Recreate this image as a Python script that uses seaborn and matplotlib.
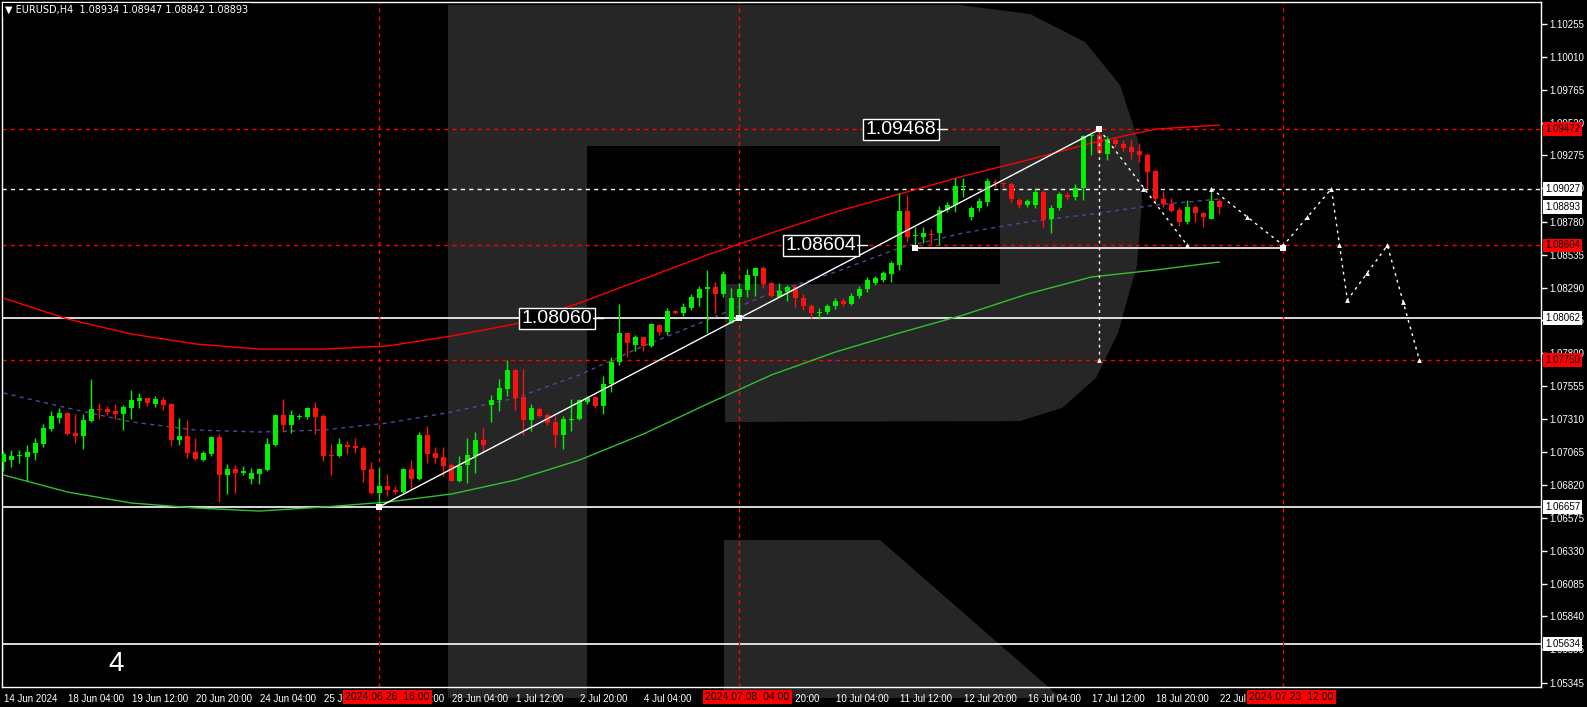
import numpy as np
import pandas as pd
import seaborn as sns
import matplotlib.pyplot as plt
from matplotlib.patches import Polygon
from matplotlib import transforms

W, H = 1587, 707

# H4 candles, 14 Jun 2024 20:00 .. 22 Jul 2024 04:00
opens = [1.06993, 1.07005, 1.07033, 1.07028, 1.07060, 1.07127, 1.07234, 1.07318, 1.07356, 1.07207,
         1.07184, 1.07296, 1.07388, 1.07385, 1.07370, 1.07348, 1.07393, 1.07445, 1.07467, 1.07423,
         1.07452, 1.07425, 1.07154, 1.07184, 1.07065, 1.07005, 1.07050, 1.07177, 1.06894, 1.06938,
         1.06909, 1.06864, 1.06901, 1.06931, 1.07117, 1.07341, 1.07266, 1.07326, 1.07326, 1.07393,
         1.07333, 1.07043, 1.07035, 1.07117, 1.07110, 1.07095, 1.06938, 1.06760, 1.06812, 1.06782,
         1.06769, 1.06938, 1.06862, 1.07194, 1.07060, 1.07030, 1.06970, 1.06851, 1.06970, 1.07037,
         1.07157, 1.07417, 1.07455, 1.07537, 1.07678, 1.07477, 1.07306, 1.07388, 1.07343, 1.07291,
         1.07194, 1.07306, 1.07313, 1.07440, 1.07477, 1.07410, 1.07574, 1.07738, 1.07954, 1.07864,
         1.07924, 1.07857, 1.08013, 1.07961, 1.08118, 1.08103, 1.08140, 1.08215, 1.08282, 1.08297,
         1.08244, 1.08028, 1.08222, 1.08274, 1.08378, 1.08438, 1.08326, 1.08222, 1.08259, 1.08297,
         1.08215, 1.08150, 1.08100, 1.08110, 1.08150, 1.08190, 1.08170, 1.08230, 1.08277, 1.08326,
         1.08346, 1.08390, 1.08458, 1.08861, 1.08672, 1.08665, 1.08690, 1.08694, 1.08868, 1.08905,
         1.09040, 1.08814, 1.08880, 1.08930, 1.09079, 1.09067, 1.09062, 1.08942, 1.08905, 1.08905,
         1.09004, 1.08801, 1.08885, 1.08980, 1.08967, 1.09030, 1.09419, 1.09427, 1.09282, 1.09389,
         1.09362, 1.09337, 1.09307, 1.09280, 1.09160, 1.08950, 1.08915, 1.08868, 1.08781, 1.08888,
         1.08843, 1.08799, 1.08934]
highs = [1.07075, 1.07080, 1.07080, 1.07117, 1.07169, 1.07274, 1.07370, 1.07395, 1.07365, 1.07348,
         1.07348, 1.07609, 1.07430, 1.07408, 1.07423, 1.07415, 1.07527, 1.07505, 1.07467, 1.07482,
         1.07475, 1.07432, 1.07318, 1.07303, 1.07169, 1.07072, 1.07185, 1.07199, 1.06976, 1.06968,
         1.06961, 1.06946, 1.06945, 1.07169, 1.07348, 1.07460, 1.07378, 1.07348, 1.07400, 1.07438,
         1.07348, 1.07125, 1.07169, 1.07147, 1.07169, 1.07110, 1.06990, 1.06946, 1.06901, 1.06812,
         1.06945, 1.07008, 1.07216, 1.07261, 1.07104, 1.07104, 1.06985, 1.07037, 1.07172, 1.07216,
         1.07246, 1.07492, 1.07611, 1.07753, 1.07686, 1.07686, 1.07425, 1.07403, 1.07358, 1.07335,
         1.07335, 1.07462, 1.07462, 1.07484, 1.07484, 1.07633, 1.07775, 1.08170, 1.07954, 1.07939,
         1.07924, 1.08028, 1.08021, 1.08140, 1.08125, 1.08177, 1.08244, 1.08304, 1.08423, 1.08334,
         1.08416, 1.08289, 1.08326, 1.08431, 1.08445, 1.08453, 1.08334, 1.08326, 1.08311, 1.08311,
         1.08240, 1.08170, 1.08140, 1.08170, 1.08210, 1.08215, 1.08250, 1.08300, 1.08370, 1.08380,
         1.08410, 1.08490, 1.08992, 1.08980, 1.08744, 1.08744, 1.08725, 1.08900, 1.08930, 1.09104,
         1.09104, 1.08900, 1.08960, 1.09104, 1.09100, 1.09080, 1.09080, 1.08955, 1.08950, 1.09030,
         1.09016, 1.08905, 1.09000, 1.09000, 1.09060, 1.09427, 1.09439, 1.09468, 1.09420, 1.09410,
         1.09390, 1.09389, 1.09369, 1.09295, 1.09165, 1.09010, 1.08955, 1.08890, 1.08942, 1.08905,
         1.08850, 1.09030, 1.08947]
lows = [1.06926, 1.06955, 1.06983, 1.06851, 1.07005, 1.07104, 1.07221, 1.07283, 1.07192, 1.07134,
        1.07090, 1.07289, 1.07313, 1.07341, 1.07313, 1.07229, 1.07311, 1.07395, 1.07410, 1.07402,
        1.07378, 1.07110, 1.07117, 1.07020, 1.07005, 1.06998, 1.07035, 1.06692, 1.06752, 1.06760,
        1.06894, 1.06827, 1.06827, 1.06925, 1.07110, 1.07214, 1.07207, 1.07311, 1.07311, 1.07199,
        1.06998, 1.06894, 1.07028, 1.07050, 1.07058, 1.06842, 1.06755, 1.06657, 1.06737, 1.06752,
        1.06760, 1.06784, 1.06855, 1.06985, 1.06985, 1.06888, 1.06851, 1.06845, 1.06836, 1.06910,
        1.07060, 1.07291, 1.07373, 1.07484, 1.07380, 1.07194, 1.07224, 1.07328, 1.07268, 1.07105,
        1.07090, 1.07224, 1.07306, 1.07425, 1.07395, 1.07350, 1.07514, 1.07715, 1.07775, 1.07820,
        1.07820, 1.07850, 1.07939, 1.07939, 1.08095, 1.08080, 1.08125, 1.08155, 1.07954, 1.08103,
        1.08222, 1.08028, 1.08060, 1.08222, 1.08229, 1.08289, 1.08222, 1.08222, 1.08192, 1.08148,
        1.08120, 1.08065, 1.08055, 1.08090, 1.08130, 1.08150, 1.08160, 1.08210, 1.08260, 1.08310,
        1.08330, 1.08330, 1.08421, 1.08632, 1.08604, 1.08620, 1.08610, 1.08607, 1.08850, 1.08855,
        1.08967, 1.08790, 1.08860, 1.08900, 1.09040, 1.09040, 1.08930, 1.08880, 1.08890, 1.08880,
        1.08744, 1.08694, 1.08870, 1.08945, 1.08940, 1.08942, 1.09278, 1.09285, 1.09240, 1.09340,
        1.09310, 1.09250, 1.09228, 1.09030, 1.08930, 1.08893, 1.08850, 1.08749, 1.08764, 1.08781,
        1.08744, 1.08799, 1.08842]
closes = [1.07050, 1.07035, 1.07040, 1.07065, 1.07132, 1.07244, 1.07333, 1.07356, 1.07199, 1.07184,
          1.07303, 1.07385, 1.07380, 1.07363, 1.07348, 1.07400, 1.07452, 1.07467, 1.07430, 1.07460,
          1.07415, 1.07154, 1.07184, 1.07058, 1.07013, 1.07058, 1.07177, 1.06894, 1.06938, 1.06909,
          1.06923, 1.06909, 1.06938, 1.07125, 1.07341, 1.07266, 1.07341, 1.07333, 1.07393, 1.07326,
          1.07035, 1.07035, 1.07125, 1.07102, 1.07095, 1.06931, 1.06760, 1.06812, 1.06782, 1.06767,
          1.06938, 1.06866, 1.07194, 1.07052, 1.07023, 1.06963, 1.06851, 1.06963, 1.07045, 1.07157,
          1.07119, 1.07455, 1.07544, 1.07678, 1.07470, 1.07306, 1.07395, 1.07335, 1.07283, 1.07194,
          1.07313, 1.07313, 1.07455, 1.07470, 1.07410, 1.07574, 1.07738, 1.07954, 1.07879, 1.07924,
          1.07857, 1.08021, 1.07961, 1.08118, 1.08103, 1.08148, 1.08222, 1.08282, 1.08297, 1.08244,
          1.08393, 1.08215, 1.08282, 1.08386, 1.08438, 1.08319, 1.08229, 1.08267, 1.08297, 1.08215,
          1.08150, 1.08100, 1.08110, 1.08150, 1.08190, 1.08170, 1.08230, 1.08280, 1.08346, 1.08359,
          1.08396, 1.08475, 1.08861, 1.08665, 1.08685, 1.08699, 1.08680, 1.08868, 1.08905, 1.09047,
          1.09047, 1.08885, 1.08935, 1.09086, 1.09067, 1.09060, 1.08948, 1.08905, 1.08935, 1.09004,
          1.08793, 1.08885, 1.08987, 1.08967, 1.09030, 1.09419, 1.09430, 1.09290, 1.09395, 1.09362,
          1.09332, 1.09302, 1.09278, 1.09153, 1.08948, 1.08910, 1.08861, 1.08781, 1.08888, 1.08843,
          1.08814, 1.08935, 1.08893]

time_labels = ['14 Jun 2024', '18 Jun 04:00', '19 Jun 12:00', '20 Jun 20:00', '24 Jun 04:00',
               '25 Jun 12:00', '26 Jun 20:00', '28 Jun 04:00', '1 Jul 12:00', '2 Jul 20:00',
               '4 Jul 04:00', '5 Jul 12:00', '8 Jul 20:00', '10 Jul 04:00', '11 Jul 12:00',
               '12 Jul 20:00', '16 Jul 04:00', '17 Jul 12:00', '18 Jul 20:00', '22 Jul 04:00']
price_ticks = [1.10255, 1.10010, 1.09765, 1.09520, 1.09275, 1.09030, 1.08780, 1.08535, 1.08290,
               1.08045, 1.07800, 1.07555, 1.07310, 1.07065, 1.06820, 1.06575, 1.06330, 1.06085,
               1.05840, 1.05595, 1.05345]

# indicator lines, read every 8 bars
ma_bars = list(range(0, 153, 8))
red_ma = [1.08212, 1.08056, 1.07944, 1.07870, 1.07832, 1.07832, 1.07855, 1.07929, 1.08019, 1.08175,
          1.08354, 1.08533, 1.08697, 1.08853, 1.08987, 1.09121, 1.09240, 1.09367, 1.09471, 1.09501]
green_ma = [1.06894, 1.06767, 1.06685, 1.06648, 1.06625, 1.06655, 1.06692, 1.06752, 1.06856, 1.07005,
            1.07199, 1.07423, 1.07639, 1.07810, 1.07952, 1.08086, 1.08242, 1.08369, 1.08421, 1.08481]
blue_ma = [1.07505, 1.07393, 1.07289, 1.07229, 1.07214, 1.07229, 1.07281, 1.07363, 1.07467, 1.07639,
           1.07855, 1.08048, 1.08250, 1.08406, 1.08585, 1.08697, 1.08779, 1.08838, 1.08905, 1.08950]

# levels and markup
red_levels = [1.09472, 1.08604, 1.07750]
white_dash_level = 1.09027
white_levels = [1.08062, 1.06657, 1.05634]
vline_bars = [47, 92, 160]
vline_labels = ['2024.06.26  16:00', '2024.07.08  04:00', '2024.07.23  12:00']
trend_bars, trend_prices = [47, 137], [1.06657, 1.09468]
path_a_bars, path_a_prices = [137, 148], [1.09468, 1.08604]
path_b_bars = [151, 160, 166, 168, 173, 177]
path_b_prices = [1.09027, 1.08604, 1.09027, 1.08197, 1.08604, 1.07750]
mark_bars = [142.5, 155.5, 163, 167, 170.5, 175]
mark_prices = [1.09027, 1.08815, 1.08815, 1.08604, 1.08400, 1.08180]
support_bars, support_price = [114, 160], 1.08582
square_bars = [47, 92, 114, 137, 160]
square_prices = [1.06657, 1.08060, 1.08582, 1.09468, 1.08582]
chart_labels = [(116.6, 1.09468, '1.09468'), (106.6, 1.08604, '1.08604'), (73.6, 1.08060, '1.08060')]

df = pd.DataFrame({'bar': np.arange(len(opens)), 'open': opens, 'high': highs,
                   'low': lows, 'close': closes})
df['up'] = df['close'] >= df['open']

sns.set_theme(style='dark', rc={'figure.facecolor': 'black', 'axes.facecolor': 'none',
                                'savefig.facecolor': 'black'})
plt.rcParams['font.family'] = ['Liberation Sans', 'DejaVu Sans']

fig = plt.figure(figsize=(W / 100, H / 100), dpi=100)
ax = fig.add_axes([2 / W, 1 - 687 / H, 1539 / W, 685 / H])


def px(x, y):
    return (x / W, 1 - y / H)


# RoboForex watermark
gray = '#262626'
stem = [px(448, 5), px(587, 5), px(587, 698), px(448, 698)]
bowl = [px(587, 5), px(960, 5), px(1030, 14), px(1085, 42), px(1120, 85), px(1138, 140),
        px(1142, 200), px(1137, 265), px(1118, 333), px(1096, 378), px(1062, 408), px(1020, 421),
        px(725, 422), px(725, 284), px(1000, 284), px(1000, 146), px(587, 146)]
leg = [px(724, 540), px(880, 540), px(1061, 698), px(724, 698)]
for shape in (stem, bowl, leg):
    fig.add_artist(Polygon(shape, closed=True, transform=fig.transFigure, fc=gray, ec='none', zorder=-5))

# candles
up = df[df['up']]
dn = df[~df['up']]
for part, col in ((up, '#00f000'), (dn, '#ff1010')):
    ax.vlines(part['bar'], part['low'], part['high'], color=col, lw=1, zorder=4)
    h = (part['close'] - part['open']).abs().clip(lower=0.00008)
    ax.bar(part['bar'], h, bottom=part[['open', 'close']].min(axis=1), width=0.62,
           color=col, edgecolor='none', zorder=5)

# indicators
sns.lineplot(x=ma_bars, y=red_ma, color='#ff0000', lw=1, ax=ax, zorder=3)
sns.lineplot(x=ma_bars, y=green_ma, color='#30c030', lw=1, ax=ax, zorder=3)
sns.lineplot(x=ma_bars, y=blue_ma, color='#4a4a9a', lw=1, ax=ax, zorder=3, linestyle=(0, (3, 3)))

# horizontal levels
for lv in red_levels:
    ax.axhline(lv, color='#ff0000', lw=1, ls=(0, (3, 3)), zorder=2)
ax.axhline(white_dash_level, color='white', lw=1, ls=(0, (3, 3)), zorder=2)
for lv in white_levels:
    ax.axhline(lv, color='white', lw=1.2, zorder=2)
for b in vline_bars:
    ax.axvline(b, color='#ff0000', lw=1, ls=(0, (3, 3)), zorder=2)

# markup
ax.plot(trend_bars, trend_prices, color='white', lw=1, zorder=6)
ax.plot(path_a_bars, path_a_prices, color='white', lw=1, ls=(0, (2, 3)), zorder=6)
ax.plot(path_b_bars, path_b_prices, color='white', lw=1, ls=(0, (2, 3)), zorder=6)
ax.plot([137, 137], [1.09468, 1.07750], color='white', lw=1, ls=(0, (2, 3)), zorder=6)
ax.plot(support_bars, [support_price] * 2, color='white', lw=1.2, zorder=6)
ax.scatter(path_a_bars + path_b_bars + mark_bars + [137],
           path_a_prices + path_b_prices + mark_prices + [1.07750],
           marker='^', s=12, color='white', zorder=7, linewidths=0)
ax.scatter(square_bars, square_prices, marker='s', s=18, color='white', zorder=7, linewidths=0)
for xb, yp, txt in chart_labels:
    ax.text(xb, yp, txt, ha='right', va='center', color='white', fontsize=14, zorder=8,
            bbox=dict(boxstyle='square,pad=0.12', fc='black', ec='white', lw=1))
    ax.plot([xb + 0.15, xb + 1.4], [yp, yp], color='white', lw=1, zorder=8)

ax.set_xlim(-0.175, 192.2)
ax.set_ylim(1.05314, 1.10418)

for s in ax.spines.values():
    s.set_color('white')
    s.set_linewidth(1)
    s.set_visible(True)
ax.grid(False)
ax.yaxis.tick_right()
ax.set_yticks(price_ticks)
ax.set_yticklabels([f'{v:.5f}' for v in price_ticks])
ax.set_xticks(list(range(0, 153, 8)))
ax.set_xticklabels(time_labels, ha='left')
ax.tick_params(axis='both', colors='white', labelcolor='white', direction='out', length=4,
               width=1, labelsize=7, pad=2)
ax.tick_params(axis='x', pad=1)
for t in ax.get_xticklabels():
    t.set_transform(t.get_transform() + transforms.ScaledTranslation(1 / 100, 0, fig.dpi_scale_trans))
ax.set_xlabel('')
ax.set_ylabel('')

# price boxes on the axis (text in the chart background colour)
ytr = transforms.blended_transform_factory(ax.transAxes, ax.transData)
boxes = [(1.09472, '#ff0000'), (1.09027, 'white'), (1.08893, 'white'), (1.08604, '#ff0000'),
         (1.08062, 'white'), (1.07750, '#ff0000'), (1.06657, 'white'), (1.05634, 'white')]
for v, bg in boxes:
    ax.text(1.0025, v, f'{v:.5f}', transform=ytr, ha='left', va='center', color='black', fontsize=7,
            zorder=10, clip_on=False,
            bbox=dict(boxstyle='square,pad=0.2', fc=bg, ec='none'))

# time boxes
xtr = transforms.blended_transform_factory(ax.transData, ax.transAxes)
for b, lab in zip(vline_bars, vline_labels):
    ax.text(b + 1, -0.0145, lab, transform=xtr, ha='center', va='center', color='black',
            fontsize=7.6, zorder=10, clip_on=False,
            bbox=dict(boxstyle='square,pad=0.2', fc='#ff0000', ec='none'))

fig.text(5 / W, 1 - 10 / H, '\u25bc EURUSD,H4  1.08934 1.08947 1.08842 1.08893', color='white',
         fontsize=7, ha='left', va='center', family=['DejaVu Sans'],
         bbox=dict(boxstyle='square,pad=0.25', fc='black', ec='none'), zorder=20)
fig.text(108 / W, 1 - 664 / H, '4', color='white', fontsize=20, ha='left', va='center')

fig.savefig('out.png', dpi=100, facecolor='black')
